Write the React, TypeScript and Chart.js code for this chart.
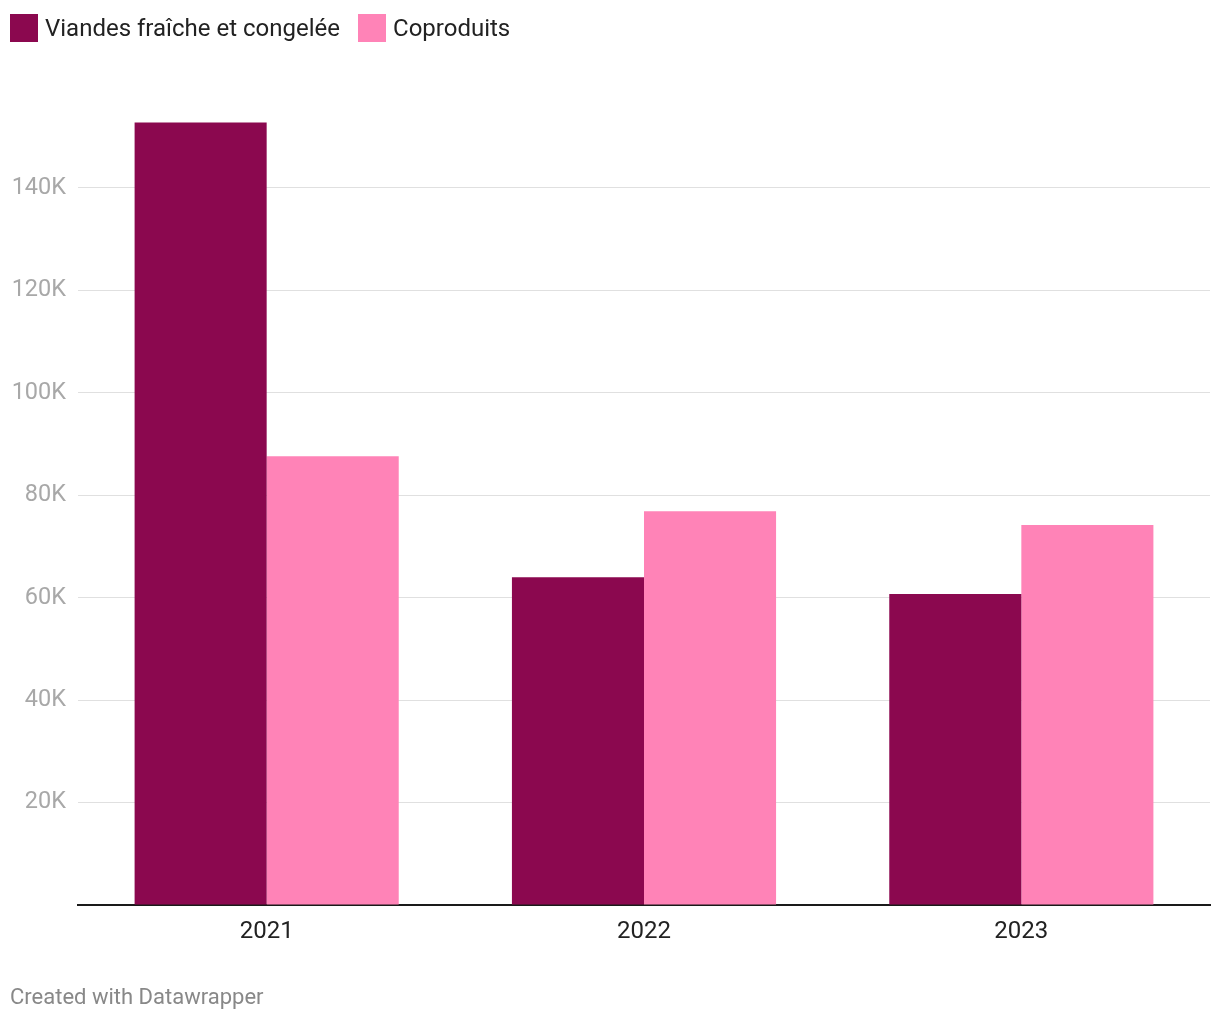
import React, { useEffect, useRef } from "react";
import { Chart, registerables } from "chart.js";

Chart.register(...registerables);

const categories = ["2021", "2022", "2023"];
const viandes = [152800, 64000, 60700];
const coproduits = [87600, 76900, 74200];
const seriesNames = ["Viandes fraîche et congelée", "Coproduits"];
const colors = ["#8b084f", "#ff83b7"];
const footer = "Created with Datawrapper";

export default function App() {
  const ref = useRef<HTMLCanvasElement | null>(null);

  useEffect(() => {
    document.body.style.margin = "0";
    const ctx = ref.current!;
    const chart = new Chart(ctx, {
      type: "bar",
      data: {
        labels: categories,
        datasets: [
          { label: seriesNames[0], data: viandes, backgroundColor: colors[0], borderWidth: 0 },
          { label: seriesNames[1], data: coproduits, backgroundColor: colors[1], borderWidth: 0 },
        ],
      },
      options: {
        animation: false,
        responsive: false,
        maintainAspectRatio: false,
        layout: { padding: { top: 85.5, right: 10, bottom: 0, left: 0 } },
        plugins: { legend: { display: false }, tooltip: { enabled: false } },
        datasets: { bar: { categoryPercentage: 0.7, barPercentage: 1 } },
        scales: {
          x: {
            grid: { display: false, drawTicks: false },
            border: { display: true, color: "#1a1a1a", width: 2 },
            ticks: {
              color: "#222",
              font: { family: "Roboto", size: 24 },
              padding: 13,
            },
            afterFit: (s: any) => {
              s.height = 115;
            },
          },
          y: {
            min: 0,
            max: 160000,
            border: { display: false },
            grid: {
              drawTicks: false,
              lineWidth: 1,
              color: (c: any) =>
                c.tick && (c.tick.value === 0 || c.tick.value === 160000) ? "rgba(0,0,0,0)" : "#e0e0e0",
            },
            ticks: {
              stepSize: 20000,
              color: "#a8a8a8",
              padding: 12,
              font: { family: "Roboto", size: 23.5 },
              callback: (v: any) => (v === 0 || v === 160000 ? "" : v / 1000 + "K"),
            },
            afterFit: (s: any) => {
              s.width = 78;
            },
          },
        },
      },
    });
    return () => chart.destroy();
  }, []);

  return (
    <div style={{ position: "relative", width: 1220, height: 1020, fontFamily: "Roboto", background: "#fff" }}>
      <canvas ref={ref} width={1220} height={1020} style={{ position: "absolute", left: 0, top: 0 }} />
      <div style={{ position: "absolute", left: 10, top: 14, display: "flex", alignItems: "center", fontSize: 24, color: "#222" }}>
        {seriesNames.map((n, i) => (
          <div key={n} style={{ display: "flex", alignItems: "center", marginRight: 18 }}>
            <span style={{ display: "inline-block", width: 28, height: 28, background: colors[i], marginRight: 7 }} />
            <span style={{ lineHeight: "28px" }}>{n}</span>
          </div>
        ))}
      </div>
      <div style={{ position: "absolute", left: 10, top: 983, fontSize: 22, color: "#888", lineHeight: "28px" }}>{footer}</div>
    </div>
  );
}
